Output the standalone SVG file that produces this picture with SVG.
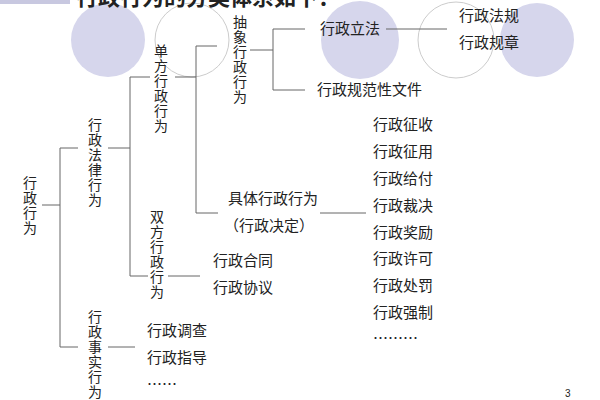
<svg xmlns="http://www.w3.org/2000/svg" width="600" height="400" viewBox="0 0 600 400">
<style>
text{font-family:"Noto Sans CJK SC","Noto Sans CJK JP",sans-serif;font-size:15px;fill:#222}
.v{writing-mode:vertical-rl;text-orientation:upright;font-size:14px;letter-spacing:1px}
.c line{stroke:#666;stroke-width:1}
.f{fill:#d6d6ec}
.o{fill:#fff;stroke:#ccc;stroke-width:1}
</style>
<rect width="600" height="400" fill="#fff"/>
<g id="deco">
<circle class="f" cx="108" cy="40" r="37"/>
<circle class="o" cx="192" cy="40" r="37"/>
<circle class="f" cx="360" cy="40" r="39"/>
<circle class="o" cx="456" cy="40" r="38"/>
<circle class="f" cx="537" cy="40" r="37"/>
<rect x="0" y="0" width="70" height="4" fill="#c8c8e0"/>
<text x="76" y="5" style="font-size:22px;font-weight:bold">行政行为的分类体系如下：</text>
</g>
<g class="c" id="connectors">
<line x1="42" y1="205" x2="60" y2="205"/>
<line x1="60" y1="148" x2="60" y2="347"/>
<line x1="60" y1="148" x2="78" y2="148"/>
<line x1="108" y1="148" x2="130" y2="148"/>
<line x1="60" y1="347" x2="78" y2="347"/>
<line x1="108" y1="347" x2="135" y2="347"/>
<line x1="130" y1="77" x2="130" y2="276"/>
<line x1="130" y1="77" x2="150" y2="77"/>
<line x1="175" y1="77" x2="196" y2="77"/>
<line x1="130" y1="276" x2="148" y2="276"/>
<line x1="168" y1="276" x2="200" y2="276"/>
<line x1="196" y1="46" x2="196" y2="213"/>
<line x1="196" y1="46" x2="217" y2="46"/>
<line x1="196" y1="213" x2="218" y2="213"/>
<line x1="250" y1="50" x2="273" y2="50"/>
<line x1="273" y1="29" x2="273" y2="90"/>
<line x1="273" y1="29" x2="305" y2="29"/>
<line x1="273" y1="90" x2="305" y2="90"/>
<line x1="386" y1="29" x2="447" y2="29"/>
<line x1="320" y1="213" x2="366" y2="213"/>
</g>
<g id="n-xzxw"><text class="v" x="30" y="176">行政行为</text></g>
<g id="n-flxw"><text class="v" x="95" y="118">行政法律行为</text></g>
<g id="n-ssxw"><text class="v" x="95" y="310">行政事实行为</text></g>
<g id="n-dfxw"><text class="v" x="161" y="44">单方行政行为</text></g>
<g id="n-sfxw"><text class="v" x="157" y="210">双方行政行为</text></g>
<g id="n-cxxw"><text class="v" x="240" y="15">抽象行政行为</text></g>
<g id="n-lf"><text x="320" y="34">行政立法</text></g>
<g id="n-gfx"><text x="317" y="95">行政规范性文件</text></g>
<g id="n-fg"><text x="459" y="21">行政法规</text><text x="459" y="48">行政规章</text></g>
<g id="n-jt"><text x="228" y="204">具体行政行为</text><text x="224" y="231">（行政决定）</text></g>
<g id="n-list">
<text x="373" y="130">行政征收</text>
<text x="373" y="157">行政征用</text>
<text x="373" y="184">行政给付</text>
<text x="373" y="211">行政裁决</text>
<text x="373" y="238">行政奖励</text>
<text x="373" y="264">行政许可</text>
<text x="373" y="291">行政处罚</text>
<text x="373" y="318">行政强制</text>
<text x="373" y="344">………</text>
</g>
<g id="n-ht"><text x="213" y="266">行政合同</text><text x="213" y="293">行政协议</text></g>
<g id="n-dc"><text x="147" y="336">行政调查</text><text x="147" y="363">行政指导</text><text x="147" y="390">……</text></g>
<text x="565" y="397" style="font-size:10px;font-family:'Liberation Sans',sans-serif">3</text>
</svg>
